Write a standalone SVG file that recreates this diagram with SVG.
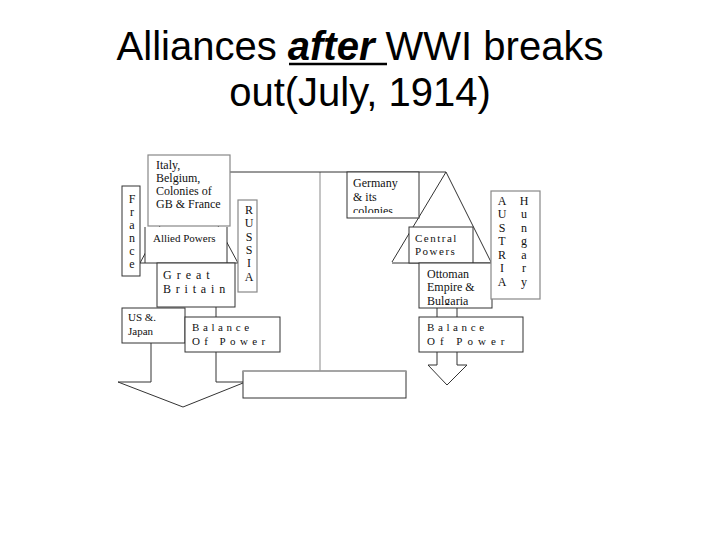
<svg xmlns="http://www.w3.org/2000/svg" width="720" height="540" viewBox="0 0 720 540">
<style>
.title{font-family:"Liberation Sans",Arial,sans-serif;font-size:40px;fill:#000}
.t{font-family:"Liberation Serif","Times New Roman",serif;font-size:12px;fill:#111}
.s{font-family:"Liberation Serif","Times New Roman",serif;font-size:11px;fill:#111}
.box{fill:#fff;stroke:#333;stroke-width:1}
.gbox{fill:#fff;stroke:#888;stroke-width:1.2}
.ln{fill:none;stroke:#333;stroke-width:1}
.pole{fill:none;stroke:#c4c4c4;stroke-width:2}
</style>
<defs>
<clipPath id="cg"><rect x="347" y="172" width="72" height="41"/></clipPath>
<clipPath id="co"><rect x="419" y="263" width="73" height="42"/></clipPath>
</defs>
<rect width="720" height="540" fill="#fff"/>
<g id="title">
<text class="title" x="360" y="60" text-anchor="middle">Alliances <tspan font-weight="bold" font-style="italic">after</tspan> WWI breaks</text>
<line x1="289" y1="64" x2="387" y2="64" stroke="#000" stroke-width="2.5"/>
<text class="title" x="360" y="106" text-anchor="middle">out(July, 1914)</text>
</g>
<g id="connectors">
<line class="pole" x1="320" y1="172" x2="320" y2="371"/>
<line class="ln" x1="189" y1="172" x2="446" y2="172" stroke="#444" stroke-width="1.5"/>
<polyline class="ln" points="140,263 189,172 238,263"/>
<polyline class="ln" points="392,262 446,172 491,262"/>
<line class="ln" x1="392" y1="263" x2="491" y2="263"/>
<line class="ln" x1="216" y1="307" x2="216" y2="317"/>
<polyline class="ln" points="151,343 151,382 118,382 183,407 248,381"/>
<polyline class="ln" points="216,352 216,382 243,382"/>
<line class="ln" x1="437" y1="308" x2="437" y2="317"/>
<line class="ln" x1="457" y1="308" x2="457" y2="317"/>
<polyline class="ln" points="437,352 437,365 428,365 447,385 467,365 457,365 457,352"/>
</g>
<g id="italy">
<rect class="gbox" x="148" y="155" width="82" height="71"/>
<text class="t" x="156" y="169">Italy,</text>
<text class="t" x="156" y="182">Belgium,</text>
<text class="t" x="156" y="195">Colonies of</text>
<text class="t" x="156" y="208">GB &amp; France</text>
</g>
<g id="allied">
<rect x="145" y="227" width="82" height="36" fill="#fff"/>
<polyline class="ln" points="145,227 145,263"/>
<polyline class="ln" points="227,227 227,263"/>
<line class="ln" x1="140" y1="263" x2="238" y2="263"/>
<text class="s" x="153" y="242">Allied Powers</text>
</g>
<g id="france">
<rect class="box" x="122" y="186" width="18" height="90"/>
<text class="t" text-anchor="middle"><tspan x="132" y="203">F</tspan><tspan x="132" y="216">r</tspan><tspan x="132" y="229">a</tspan><tspan x="132" y="242">n</tspan><tspan x="132" y="255">c</tspan><tspan x="132" y="268">e</tspan></text>
</g>
<g id="russia">
<rect class="gbox" x="238" y="200" width="19" height="92"/>
<text class="t" text-anchor="middle"><tspan x="249" y="214">R</tspan><tspan x="249" y="227">U</tspan><tspan x="249" y="241">S</tspan><tspan x="249" y="254">S</tspan><tspan x="249" y="267">I</tspan><tspan x="249" y="281">A</tspan></text>
</g>
<g id="britain">
<rect class="box" x="157" y="263" width="78" height="44"/>
<text class="t" x="163" y="279" letter-spacing="5">Great</text>
<text class="t" x="163" y="293" letter-spacing="4.8">Britain</text>
</g>
<g id="usjapan">
<rect class="box" x="122" y="308" width="63" height="35"/>
<text class="s" x="128" y="321">US &amp;.</text>
<text class="s" x="128" y="335">Japan</text>
</g>
<g id="bop-left">
<rect class="box" x="185" y="317" width="95" height="35"/>
<text class="s" x="192" y="331" letter-spacing="3.6">Balance</text>
<text class="s" x="192" y="345" letter-spacing="4.4">Of Power</text>
</g>
<g id="base">
<rect class="box" x="243" y="371" width="163" height="27" stroke="#444"/>
<line x1="243" y1="371" x2="406" y2="371" stroke="#aaa" stroke-width="1.5"/>
</g>
<g id="germany">
<rect class="box" x="347" y="172" width="72" height="46"/>
<g clip-path="url(#cg)">
<text class="t" x="353" y="187">Germany</text>
<text class="t" x="353" y="201">&amp; its</text>
<text class="t" x="353" y="215">colonies</text>
</g>
</g>
<g id="central">
<rect class="box" x="409" y="227" width="64" height="36"/>
<text class="s" x="415" y="242" letter-spacing="1.5">Central</text>
<text class="s" x="415" y="255" letter-spacing="1.5">Powers</text>
</g>
<g id="ottoman">
<rect class="box" x="419" y="263" width="73" height="45"/>
<g clip-path="url(#co)">
<text class="t" x="427" y="278">Ottoman</text>
<text class="t" x="427" y="291">Empire &amp;</text>
<text class="t" x="427" y="305">Bulgaria</text>
</g>
</g>
<g id="austria">
<rect class="gbox" x="491" y="191" width="49" height="108"/>
<text class="t" text-anchor="middle"><tspan x="502" y="205">A</tspan><tspan x="502" y="218">U</tspan><tspan x="502" y="232">S</tspan><tspan x="502" y="245">T</tspan><tspan x="502" y="259">R</tspan><tspan x="502" y="272">I</tspan><tspan x="502" y="286">A</tspan></text>
<text class="t" text-anchor="middle"><tspan x="524" y="205">H</tspan><tspan x="524" y="218">u</tspan><tspan x="524" y="232">n</tspan><tspan x="524" y="245">g</tspan><tspan x="524" y="259">a</tspan><tspan x="524" y="272">r</tspan><tspan x="524" y="286">y</tspan></text>
</g>
<g id="bop-right">
<rect class="box" x="419" y="317" width="104" height="35"/>
<text class="s" x="427" y="331" letter-spacing="3.6">Balance</text>
<text class="s" x="427" y="345" letter-spacing="5">Of Power</text>
</g>
</svg>
